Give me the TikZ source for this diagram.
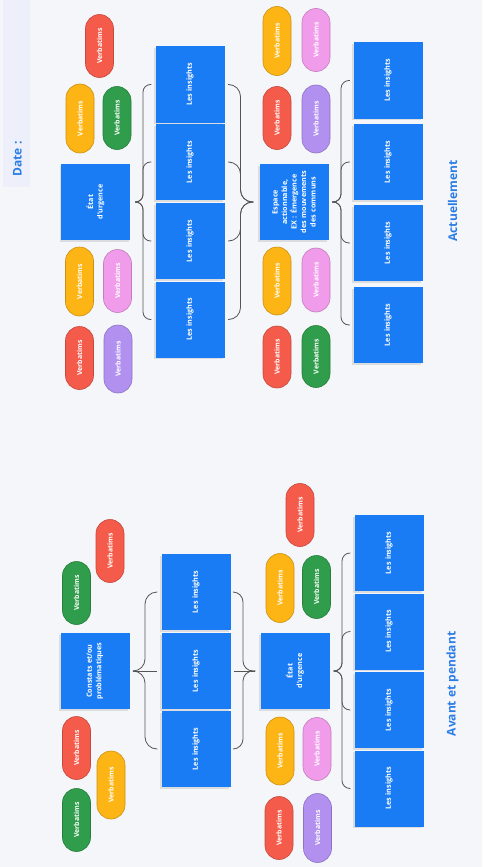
\documentclass[tikz,border=0pt]{standalone}
\usepackage{fontspec}
\setmainfont{Open Sans}
\usetikzlibrary{shadows, calc}
\definecolor{bg}{HTML}{F4F6FA}
\definecolor{datebg}{HTML}{EDF0FA}
\definecolor{boxblue}{HTML}{1A7CF5}
\definecolor{titleblue}{HTML}{2B7DE6}
\definecolor{cred}{HTML}{F55B4B}
\definecolor{cyellow}{HTML}{FDB515}
\definecolor{cgreen}{HTML}{2F9D4B}
\definecolor{cpink}{HTML}{F19CEB}
\definecolor{cpurple}{HTML}{B290F0}
\definecolor{bracegray}{HTML}{555555}
\tikzstyle{box}     = [rectangle, rotate=90, minimum width=76pt, minimum height=69pt,
                       inner sep=0pt, text width=66pt, align=center, fill=boxblue,
                       text=white, font=\fontsize{7.2}{9.5}\selectfont\bfseries,
                       drop shadow={shadow xshift=-1.5pt, shadow yshift=-1.5pt, opacity=0.22}]
\tikzstyle{pill}    = [rectangle, rotate=90, rounded corners=14pt, minimum height=28pt,
                       inner sep=0pt, line width=0.6pt, text=white,
                       font=\fontsize{6.9}{8}\selectfont\bfseries]
\tikzstyle{heading} = [rotate=90, text=titleblue, font=\fontsize{12}{14}\selectfont\bfseries]
\tikzstyle{brace}   = [draw=bracegray, line width=0.8pt]

\begin{document}
\begin{tikzpicture}[x=1pt, y=-1pt]

  \fill[bg] (0,0) rectangle (482,867);
  \useasboundingbox (0,0) rectangle (482,867);

  %% ── Date ──
  \fill[datebg] (3,0) rectangle (30,187);
  \node[heading] (date) at (17.5,159) {Date :};

  %% ── Actuellement ──
  \node[box] (etatA) at (95.5,202) {État\\d'urgence};
  \foreach \i/\y in {1/84.5, 2/162, 3/241, 4/319.5}
    \node[box] (insA\i) at (190,\y) {Les insights};
  \node[box] (espace) at (294,202)
        {Espace\\actionnable,\\EX : Émergence\\des mouvements\\des communs};
  \foreach \i/\y in {1/80.5, 2/162, 3/243, 4/325}
    \node[box] (insB\i) at (388,\y) {Les insights};
  \node[heading] (actu) at (452.5,201) {Actuellement};

  %% ── Avant et pendant ──
  \node[box] (constats) at (95,671) {Constats et/ou\\problématiques};
  \foreach \i/\y in {1/592, 2/671, 3/749}
    \node[box] (insC\i) at (196,\y) {Les insights};
  \node[box] (etatB) at (295,671) {État\\d'urgence};
  \foreach \i/\y in {1/553, 2/631.5, 3/710, 4/788.5}
    \node[box] (insD\i) at (389,\y) {Les insights};
  \node[heading] (avant) at (452.5,684) {Avant et pendant};

  %% ── Verbatims ──
  \foreach \n/\c/\w/\x/\y in {
      pA1/cred/63/99.5/46,     pA2/cyellow/69/80/118.5,  pA3/cgreen/63/117/118,
      pA4/cyellow/69/79.5/281.5, pA5/cpink/63/117.5/281, pA6/cred/63/79.5/358,
      pA7/cpurple/68/118/359,
      pB1/cyellow/69/277/41,   pB2/cpink/63/316/40,      pB3/cred/63/277/118,
      pB4/cpurple/68/316/119,  pB5/cyellow/68/277/281,   pB6/cpink/64/316/280,
      pB7/cred/62/277/357,     pB8/cgreen/62/316/356.5,
      pC1/cred/63/110/551,     pC2/cgreen/63/76.5/593,   pC3/cred/63/76.5/748,
      pC4/cyellow/68/111/785,  pC5/cgreen/63/76.5/820,
      pD1/cred/63/300/515,     pD2/cyellow/69/280/588,   pD3/cgreen/63/316.5/587,
      pD4/cyellow/68/280/751,  pD5/cpink/63/317/749,     pD6/cred/63/279/828,
      pD7/cpurple/69/317.5/828}
    \node[pill, fill=\c, draw=\c!80!black, minimum width=\w pt] (\n) at (\x,\y) {Verbatims};

  %% ── Braces ──
  \coordinate (vTL) at (143,0);
  \coordinate (vTR) at (240.5,0);
  \coordinate (vT2) at (341,0);
  \coordinate (vBL) at (145,0);
  \coordinate (vBR) at (243,0);
  \coordinate (vB2) at (342,0);

  \foreach \i in {1,...,4} {
    \draw[brace, rounded corners=7.5pt] ([xshift=5pt]etatA.south)
          -| (vTL |- insA\i.north) -- ([xshift=-4pt]insA\i.north);
    \draw[brace, rounded corners=12pt] ([xshift=3.5pt]insA\i.south)
          -| (vTR |- espace.north) -- ([xshift=-6pt]espace.north);
    \draw[brace, rounded corners=8pt] ([xshift=3.5pt]espace.south)
          -| (vT2 |- insB\i.north) -- ([xshift=-3.5pt]insB\i.north);
    \draw[brace, rounded corners=8pt] ([xshift=4pt]etatB.south)
          -| (vB2 |- insD\i.north) -- ([xshift=-4pt]insD\i.north);
  }
  \foreach \i in {1,3} {
    \draw[brace, rounded corners=12pt] ([xshift=3.5pt]constats.south)
          -| (vBL |- insC\i.north) -- ([xshift=-4pt]insC\i.north);
    \draw[brace, rounded corners=10pt] ([xshift=3pt]insC\i.south)
          -| (vBR |- etatB.north) -- ([xshift=-5pt]etatB.north);
  }
  \draw[brace] ([xshift=3.5pt]constats.south) -- ([xshift=-4pt]insC2.north);
  \draw[brace] ([xshift=3pt]insC2.south) -- ([xshift=-5pt]etatB.north);

\end{tikzpicture}
\end{document}
